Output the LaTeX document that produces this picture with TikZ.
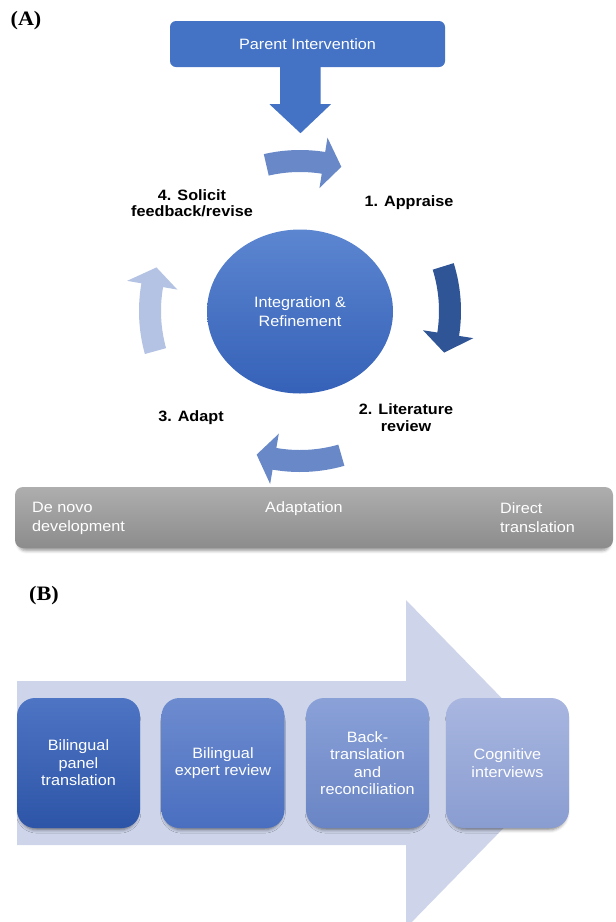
\documentclass[tikz,border=0pt]{standalone}
\usepackage{fontspec}
\setmainfont{Liberation Sans}[FakeStretch=1.08]
\newfontfamily\panelfont{Liberation Serif}[FakeStretch=1.08]
\usetikzlibrary{shapes.geometric,shadows.blur}

\definecolor{piblue}{HTML}{4472C4}
\definecolor{arrowmid}{HTML}{6888C8}
\definecolor{arrowdark}{HTML}{2F5597}
\definecolor{arrowlight}{HTML}{B4C3E3}
\definecolor{coretop}{HTML}{5C86D0}
\definecolor{corebot}{HTML}{3561B8}
\definecolor{bartop}{HTML}{AEAEAE}
\definecolor{barbot}{HTML}{8C8C8C}
\definecolor{flowbg}{HTML}{CED5EA}
\definecolor{sonetop}{HTML}{4E74C4}
\definecolor{sonebot}{HTML}{2D55A7}
\definecolor{stwotop}{HTML}{6D8BCF}
\definecolor{stwobot}{HTML}{4A6FC0}
\definecolor{sthreetop}{HTML}{8AA1D8}
\definecolor{sthreebot}{HTML}{6A85C5}
\definecolor{sfourtop}{HTML}{A8B6E0}
\definecolor{sfourbot}{HTML}{8A9DD1}

% curved block arrow on the ring: colour, tail angle, head base angle, tip angle
\newcommand\ringarrow[4]{%
  \fill[#1] ([shift={(ring)}]#2:161pt) arc[start angle=#2, end angle=#3, radius=161pt]
    -- ([shift={(ring)}]#3:175.5pt) -- ([shift={(ring)}]#4:150pt)
    -- ([shift={(ring)}]#3:124.5pt) -- ([shift={(ring)}]#3:139pt)
    arc[start angle=#3, end angle=#2, radius=139pt] -- cycle;}

\tikzset{
  every node/.style={inner sep=0pt},
  panel/.style={font=\panelfont\bfseries\fontsize{20.5}{24}\selectfont},
  steplabel/.style={font=\bfseries\fontsize{15}{16.5}\selectfont, align=center},
  bartext/.style={text=white, font=\fontsize{15}{19}\selectfont, align=left, anchor=west},
  stage/.style={minimum width=123pt, minimum height=130pt, rounded corners=18pt,
    text=white, align=center, font=\fontsize{15}{17.5}\selectfont,
    blur shadow={shadow xshift=0pt, shadow yshift=-4.5pt, shadow scale=0.96,
      shadow blur radius=3.5pt, shadow opacity=50}},
}

\begin{document}
\begin{tikzpicture}[x=1pt, y=1pt]
\useasboundingbox (0,0) rectangle (616,-922);

% ---------- panel A ----------
\node[panel] (labA) at (26,-21) {(A)};

\node[fill=piblue, rounded corners=6pt, minimum width=275pt, minimum height=46pt,
      text=white, font=\fontsize{15}{18}\selectfont] (parent) at (307.5,-44) {Parent Intervention};

% broad arrow from the intervention box into the cycle
\coordinate (shaftL) at ([xshift=-27.5pt]parent.south);
\coordinate (shaftR) at ([xshift=13pt]parent.south);
\coordinate (tipA) at ([xshift=-7pt,yshift=-66pt]parent.south);
\fill[piblue] (shaftL) -- (shaftR) -- ([yshift=-37pt]shaftR) -- ([xshift=10.5pt,yshift=-37pt]shaftR)
  -- (tipA) -- ([xshift=-10.5pt,yshift=-37pt]shaftL) -- ([yshift=-37pt]shaftL) -- cycle;

\coordinate (ring) at (300,-311);
\ringarrow{arrowmid}{103}{81}{74}
\ringarrow{arrowdark}{17.3}{-8.9}{-16.1}
\ringarrow{arrowmid}{-74}{-99.8}{-106.8}
\ringarrow{arrowlight}{195.5}{170.1}{163.1}

\node[ellipse, minimum width=186pt, minimum height=164pt, top color=coretop, bottom color=corebot,
      text=white, align=center, font=\fontsize{15}{19}\selectfont] (core) at (300,-311.5)
      {Integration \&\\Refinement};

\node[steplabel] (s1) at (409,-203) {1. Appraise};
\node[steplabel] (s2) at (406,-417.5) {2. Literature\\review};
\node[steplabel] (s3) at (191,-418) {3. Adapt};
\node[steplabel] (s4) at (192,-203) {4. Solicit\\feedback/revise};

% continuum bar
\node[rounded corners=8pt, minimum width=598pt, minimum height=61pt,
      top color=bartop, bottom color=barbot,
      blur shadow={shadow xshift=0pt, shadow yshift=-3pt, shadow scale=0.99,
        shadow blur radius=3pt, shadow opacity=40}]
      (bar) at (314,-517.5) {};
\node[bartext] (denovo) at (32,-518.5) {De novo\\development};
\node[bartext] (adapt) at (265,-509) {Adaptation};
\node[bartext] (direct) at (500,-517.5) {Direct\\translation};

% ---------- panel B ----------
\node[panel] (labB) at (44,-596) {(B)};

\fill[flowbg] (17,-681) -- (406,-681) -- (406,-600) -- (566,-764)
  -- (406,-928) -- (406,-845) -- (17,-845) -- cycle;

\node[stage, top color=sonetop, bottom color=sonebot] (b1) at (78.5,-763) {Bilingual\\panel\\translation};
\node[stage, top color=stwotop, bottom color=stwobot] (b2) at (223,-763) {Bilingual\\expert review};
\node[stage, top color=sthreetop, bottom color=sthreebot] (b3) at (367.5,-763) {Back-\\translation\\and\\reconciliation};
\node[stage, top color=sfourtop, bottom color=sfourbot] (b4) at (507.5,-763) {Cognitive\\interviews};

\end{tikzpicture}
\end{document}
